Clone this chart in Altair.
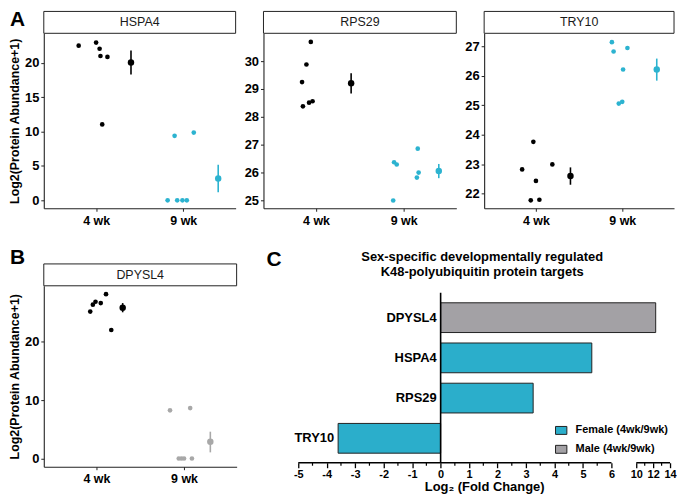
import altair as alt
import pandas as pd

FONT = "Liberation Sans"

# ---------------- data ----------------
groups = ["4 wk", "9 wk"]
point_group = ["4 wk"] * 6 + ["9 wk"] * 6

# Panel A: HSPA4 (x = jittered position on the discrete axis, 1 = 4 wk, 2 = 9 wk)
hspa4_x = [0.80, 1.00, 1.04, 1.05, 1.13, 1.07, 1.82, 1.90, 1.93, 1.99, 2.04, 2.12]
hspa4_y = [22.5, 22.95, 22.05, 21.0, 20.86, 11.05, 0.0, 9.38, 0.0, 0.0, 0.0, 9.86]
hspa4_mean = [20.05, 3.19]
hspa4_lo = [18.3, 1.19]
hspa4_hi = [21.8, 5.19]

# Panel A: RPS29
rps29_x = [0.84, 0.85, 0.89, 0.92, 0.96, 0.94, 1.89, 1.92, 1.88, 2.16, 2.17, 2.15]
rps29_y = [29.25, 28.38, 29.88, 28.51, 28.56, 30.69, 26.37, 26.29, 25.0, 26.86, 26.0, 25.82]
rps29_mean = [29.21, 26.06]
rps29_lo = [28.84, 25.8]
rps29_hi = [29.57, 26.31]

# Panel A: TRY10
try10_x = [0.84, 0.97, 1.00, 0.94, 1.04, 1.19, 1.88, 1.90, 2.06, 2.01, 1.96, 2.00]
try10_y = [22.82, 23.76, 22.43, 21.77, 21.79, 22.99, 27.15, 26.83, 26.95, 26.22, 25.06, 25.12]
try10_mean = [22.6, 26.22]
try10_lo = [22.3, 25.84]
try10_hi = [22.89, 26.59]

# Panel B: DPYSL4
dpysl4_x = [0.93, 0.96, 0.99, 1.05, 1.11, 1.17, 1.84, 1.94, 1.97, 2.00, 2.07, 2.09]
dpysl4_y = [25.18, 26.36, 26.86, 26.64, 28.16, 22.02, 8.26, 0.0, 0.0, 0.0, 8.65, 0.0]
dpysl4_mean = [25.85, 2.87]
dpysl4_lo = [25.06, 1.06]
dpysl4_hi = [26.64, 4.6]

mean_x_A = [1.4, 2.4]
mean_x_B = [1.3, 2.3]

# Panel C
c_genes = ["DPYSL4", "HSPA4", "RPS29", "TRY10"]
c_log2fc = [12.3, 5.31, 3.25, -3.6]
c_sex = ["Male (4wk/9wk)", "Female (4wk/9wk)", "Female (4wk/9wk)", "Female (4wk/9wk)"]
sex_levels = ["Female (4wk/9wk)", "Male (4wk/9wk)"]
c_major_ticks = [-5, -4, -3, -2, -1, 0, 1, 2, 3, 4, 5, 6, 10, 12, 14]
c_minor_ticks = [-4.5, -3.5, -2.5, -1.5, -0.5, 0.5, 1.5, 2.5, 3.5, 4.5, 5.5, 11, 13]
c_axis_from = [-5, 10]
c_axis_to = [6, 14]
c_title = ["Sex-specific developmentally regulated", "K48-polyubiquitin protein targets"]

# ---------------- style ----------------
BLACK = "#000000"
CYAN = "#2CB3D0"
GREY = "#A8A8A8"
CYAN_BAR = "#2BAECB"
GREY_BAR = "#A3A1A5"
LINE = "#222222"

X_DOMAIN = [0.4, 2.6]
x_label_expr = f"datum.value == 1 ? '{groups[0]}' : '{groups[1]}'"


def dot_panel(name, xs, ys, mean_x, means, lo, hi, colors, ydom, yticks, w, h,
              ytitle=None, letter=None, letter_y=-22):
    pts = pd.DataFrame({"x": xs, "y": ys, "g": point_group})
    summ = pd.DataFrame({"x": mean_x, "m": means, "lo": lo, "hi": hi, "g": groups})
    strip = pd.DataFrame({"t": [name]})
    xsc = alt.Scale(domain=X_DOMAIN, nice=False, zero=False)
    ysc = alt.Scale(domain=ydom, nice=False, zero=False)
    csc = alt.Scale(domain=groups, range=colors)
    xax = alt.Axis(values=[1, 2], labelExpr=x_label_expr, title=None,
                   labelFontSize=12.5, labelPadding=3)
    yax = alt.Axis(values=yticks, title=ytitle, labelFontSize=13,
                   labelPadding=2, titlePadding=3, titleFontSize=12.5)

    def X(f):
        return alt.X(f"{f}:Q", scale=xsc, axis=xax)

    def Y(f):
        return alt.Y(f"{f}:Q", scale=ysc, axis=yax)

    C = alt.Color("g:N", scale=csc, legend=None)
    l_pts = alt.Chart(pts).mark_circle(size=22, opacity=1).encode(x=X("x"), y=Y("y"), color=C)
    l_err = alt.Chart(summ).mark_rule(strokeWidth=1.6).encode(x=X("x"), y=Y("lo"), y2="hi:Q", color=C)
    l_mean = alt.Chart(summ).mark_circle(size=42, opacity=1).encode(x=X("x"), y=Y("m"), color=C)
    l_box = alt.Chart(strip).mark_rect(fill="white", stroke=LINE, strokeWidth=1).encode(
        x=alt.value(0), x2=alt.value(w), y=alt.value(-22), y2=alt.value(0))
    l_txt = alt.Chart(strip).mark_text(fontSize=12.5, font=FONT, color="#1a1a1a").encode(
        x=alt.value(w / 2), y=alt.value(-11), text="t:N")
    layers = [l_pts, l_err, l_mean, l_box, l_txt]
    if letter:
        layers.append(
            alt.Chart(strip).mark_text(text=letter, fontSize=21, fontWeight="bold", font=FONT,
                                       align="left", baseline="top", color="black").encode(
                x=alt.value(-34), y=alt.value(letter_y)))
    return alt.layer(*layers).properties(width=w, height=h)


H_A = 176
pA1 = dot_panel("HSPA4", hspa4_x, hspa4_y, mean_x_A, hspa4_mean, hspa4_lo, hspa4_hi,
                [BLACK, CYAN], [-1.15, 24.3], [0, 5, 10, 15, 20], 193, H_A,
                ytitle="Log2(Protein Abundance+1)", letter="A", letter_y=-24)
pA2 = dot_panel("RPS29", rps29_x, rps29_y, mean_x_A, rps29_mean, rps29_lo, rps29_hi,
                [BLACK, CYAN], [24.72, 31.0], [25, 26, 27, 28, 29, 30], 194, H_A)
pA3 = dot_panel("TRY10", try10_x, try10_y, mean_x_A, try10_mean, try10_lo, try10_hi,
                [BLACK, CYAN], [21.5, 27.45], [22, 23, 24, 25, 26, 27], 191, H_A)

H_B = 182
pB = dot_panel("DPYSL4", dpysl4_x, dpysl4_y, mean_x_B, dpysl4_mean, dpysl4_lo, dpysl4_hi,
               [BLACK, GREY], [-1.4, 29.6], [0, 10, 20], 194, H_B,
               ytitle="Log2(Protein Abundance+1)", letter="B", letter_y=-39)

# ---------------- panel C (broken x axis) ----------------
BRK_LO, BRK_HI, GAP, SQUEEZE = 6, 10, 0.872, 0.2965


def brk(v):
    return v if v <= BRK_LO else BRK_LO + GAP + (v - BRK_HI) * SQUEEZE


def brk_expr(f):
    return f"({f} <= {BRK_LO} ? {f} : {BRK_LO + GAP} + ({f} - {BRK_HI}) * {SQUEEZE})"


u_major = [brk(v) for v in c_major_ticks]
c_label_expr = f"'{c_major_ticks[-1]}'"
for i in range(len(u_major) - 2, -1, -1):
    mid = (u_major[i] + u_major[i + 1]) / 2
    c_label_expr = f"datum.value < {mid:.4f} ? '{c_major_ticks[i]}' : ({c_label_expr})"

W_C = 374
H_C = 178
xsc_c = alt.Scale(domain=[brk(-5), brk(14)], nice=False, zero=False)
ysc_c = alt.Scale(paddingInner=0.26, paddingOuter=0.33, align=0.64)
xax_c = alt.Axis(values=u_major, labelExpr=c_label_expr, domain=False, tickSize=5,
                 tickColor="black", tickWidth=1.3, labelFontSize=11, labelPadding=1,
                 labelOverlap=False, labelFlush=False,
                 title="Log₂ (Fold Change)", titleFontSize=13, titlePadding=1)


def XC(f):
    return alt.X(f"{f}:Q", scale=xsc_c, axis=xax_c)


YC = alt.Y("gene:N", sort=c_genes, scale=ysc_c, axis=None)

cdf = pd.DataFrame({"gene": c_genes, "fc": c_log2fc, "sex": c_sex})

bars = alt.Chart(cdf).transform_calculate(u=brk_expr("datum.fc")).mark_bar(
    stroke=LINE, strokeWidth=1).encode(
    x=XC("u"), x2=alt.datum(0), y=YC,
    color=alt.Color("sex:N", scale=alt.Scale(domain=sex_levels, range=[CYAN_BAR, GREY_BAR]),
                    legend=alt.Legend(title=None, orient="none", legendX=258, legendY=H_C - 39,
                                      symbolType="M-1,-0.7L1,-0.7L1,0.7L-1,0.7Z",
                                      symbolSize=130,
                                      symbolStrokeColor=LINE, symbolStrokeWidth=1,
                                      labelFont=FONT, labelFontSize=11, labelFontWeight="bold",
                                      labelColor="black", rowPadding=6, labelOffset=8,
                                      padding=0)))

labels = alt.Chart(cdf).transform_calculate(u=brk_expr("datum.fc")).transform_calculate(
    lx="min(0, datum.u)").mark_text(align="right", baseline="middle", dx=-4, fontSize=13,
                                    fontWeight="bold", font=FONT, color="black").encode(
    x=XC("lx"), y=YC, text="gene:N")

zero_df = pd.DataFrame({"z": [0]})
zero = alt.Chart(zero_df).mark_rule(color="black", strokeWidth=1.6).encode(
    x=XC("z"), y=alt.value(7), y2=alt.value(H_C))

seg = pd.DataFrame({"a": c_axis_from, "b": c_axis_to})
axis_line = alt.Chart(seg).transform_calculate(
    ua=brk_expr("datum.a")).transform_calculate(ub=brk_expr("datum.b")).mark_rule(
    color="black", strokeWidth=1.5).encode(x=XC("ua"), x2="ub:Q", y=alt.value(H_C))

mt = pd.DataFrame({"v": c_minor_ticks})
minor = alt.Chart(mt).transform_calculate(um=brk_expr("datum.v")).mark_rule(
    color="black", strokeWidth=1.2).encode(x=XC("um"), y=alt.value(H_C), y2=alt.value(H_C + 3))

letterC = alt.Chart(zero_df).mark_text(text="C", fontSize=21, fontWeight="bold", font=FONT,
                                       align="left", baseline="top", color="black").encode(
    x=alt.value(-32), y=alt.value(-37))

title_layers = []
for i, line in enumerate(c_title):
    title_layers.append(
        alt.Chart(pd.DataFrame({"line": [line]})).mark_text(
            fontSize=13, fontWeight="bold", font=FONT, color="black", baseline="middle").encode(
            x=alt.value(W_C / 2 - 2), y=alt.value(-29 + 15 * i), text="line:N"))

pC = alt.layer(bars, labels, zero, axis_line, minor, letterC, *title_layers).properties(
    width=W_C, height=H_C)

row1 = alt.hconcat(pA1, pA2, pA3, spacing=28, bounds="flush").resolve_scale(color="independent")
row2 = alt.hconcat(pB, pC, spacing=62, bounds="flush").resolve_scale(color="independent")

chart = alt.vconcat(row1, row2, spacing=20, padding=0).resolve_scale(
    color="independent").configure_axis(
    labelFont=FONT, titleFont=FONT, labelFontWeight="bold", titleFontWeight="bold",
    labelColor="black", titleColor="black", domainColor=LINE, domainWidth=1.1,
    tickColor=LINE, tickSize=3, grid=False
).configure_view(strokeWidth=0).configure_legend(labelFont=FONT)

chart.save("out.html", embed_options={"renderer": "svg", "actions": False})
